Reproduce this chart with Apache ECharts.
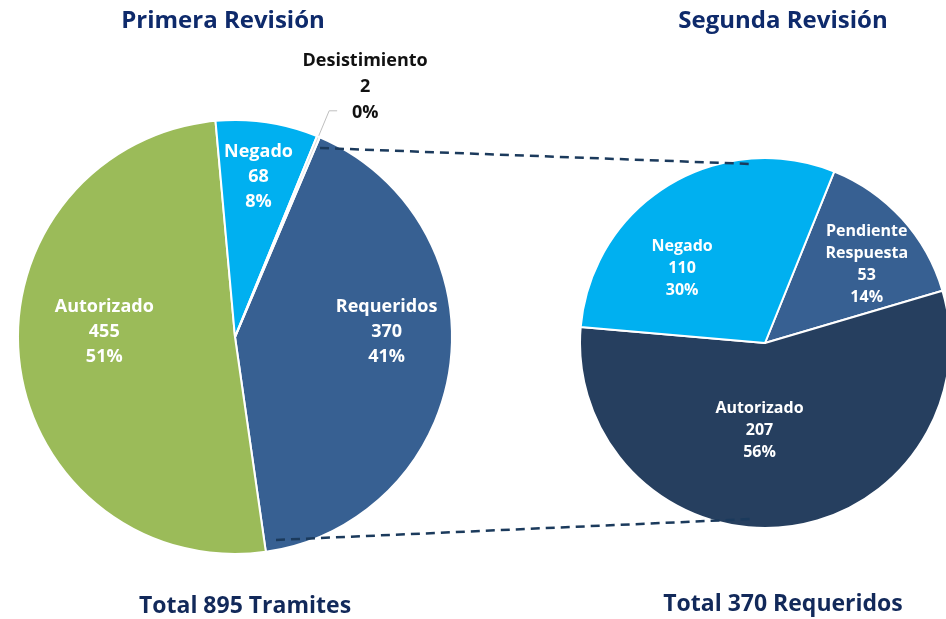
<!DOCTYPE html>
<html>
<head>
<meta charset="utf-8">
<script src="https://cdn.jsdelivr.net/npm/echarts@6/dist/echarts.min.js"></script>
<style>
  html, body { margin: 0; padding: 0; background: #fff; }
  #chartBox { width: 946px; height: 619px; }
</style>
</head>
<body>
<div id="chartBox"></div>
<script>
// primera revision (clockwise from Requeridos)
const firstNames = ["Requeridos", "Autorizado", "Negado", "Desistimiento"];
const firstValues = [370, 455, 68, 2];
const firstColors = ["#376092", "#9BBB59", "#00B0F0", "#D9D9D9"];

// segunda revision
const secondNames = ["Pendiente\nRespuesta", "Autorizado", "Negado"];
const secondValues = [53, 207, 110];
const secondColors = ["#376092", "#263F5F", "#00B0F0"];

const firstTotalText = "Total 895 Tramites";
const secondTotalText = "Total 370 Requeridos";

// label nudges, px
const firstOffsets = [[41, -20], [-20, -18], [7, -50], [23, -24]];
const secondOffsets = [[31, -14], [-15, -8], [-33, 7]];

const font = "'Open Sans', 'Noto Sans', sans-serif";
const navy = "#0E2A6B";

var myChart;

window.onload = function () {
  myChart = echarts.init(document.getElementById("chartBox"));
  myChart.setOption(buildOption());
};

function pctText(v, total) {
  return Math.round((v / total) * 100) + "%";
}

function buildOption() {
  const t1 = firstValues.reduce((a, b) => a + b, 0);
  const t2 = secondValues.reduce((a, b) => a + b, 0);

  const firstData = firstNames.map(function (n, i) {
    let item = {
      name: n,
      value: firstValues[i],
      itemStyle: { color: firstColors[i] },
    };
    if (n === "Desistimiento") {
      item.label = {
        position: "outside",
        color: "#111",
        fontSize: 18,
        lineHeight: 26,
        align: "center",
      };
      item.labelLine = {
        show: true,
        length: 28,
        length2: 8,
        lineStyle: { color: "#bfbfbf", width: 1 },
      };
    }
    return item;
  });

  const secondData = secondNames.map(function (n, i) {
    return {
      name: n,
      value: secondValues[i],
      itemStyle: { color: secondColors[i] },
    };
  });

  const titleStyle = { color: navy, fontSize: 24, fontWeight: "bold", fontFamily: font };
  const totalStyle = { color: "#12295A", fontSize: 23, fontWeight: "bold", fontFamily: font };

  return {
    animation: false,
    backgroundColor: "#fff",
    title: [
      { text: "Primera Revisión", left: 218, top: 4, textAlign: "center", textStyle: titleStyle },
      { text: "Segunda Revisión", left: 778, top: 4, textAlign: "center", textStyle: titleStyle },
      { text: firstTotalText, left: 240, top: 590, textAlign: "center", textStyle: totalStyle },
      { text: secondTotalText, left: 778, top: 588, textAlign: "center", textStyle: totalStyle },
    ],
    graphic: [
      {
        type: "line",
        shape: { x1: 320, y1: 148, x2: 752, y2: 164 },
        style: { stroke: "#1B3A5C", lineWidth: 2.5, lineDash: [9, 6] },
        z: 10,
      },
      {
        type: "line",
        shape: { x1: 276, y1: 540, x2: 752, y2: 519 },
        style: { stroke: "#1B3A5C", lineWidth: 2.5, lineDash: [9, 6] },
        z: 10,
      },
    ],
    series: [
      {
        type: "pie",
        center: [235, 337],
        radius: [0, 217],
        startAngle: 67,
        clockwise: true,
        avoidLabelOverlap: false,
        itemStyle: { borderColor: "#fff", borderWidth: 2 },
        label: {
          position: "inside",
          color: "#fff",
          fontFamily: font,
          fontWeight: "bold",
          fontSize: 18,
          lineHeight: 25,
          formatter: function (p) {
            return p.name + "\n" + p.value + "\n" + pctText(p.value, t1);
          },
        },
        labelLine: { show: false },
        labelLayout: function (p) {
          const o = firstOffsets[p.dataIndex];
          let r = { dx: o[0], dy: o[1] };
          if (p.dataIndex === 3) r.align = "center";
          return r;
        },
        data: firstData,
      },
      {
        type: "pie",
        center: [765, 343],
        radius: [0, 185],
        startAngle: 68,
        clockwise: true,
        avoidLabelOverlap: false,
        itemStyle: { borderColor: "#fff", borderWidth: 2 },
        label: {
          position: "inside",
          color: "#fff",
          fontFamily: font,
          fontWeight: "bold",
          fontSize: 16,
          lineHeight: 22,
          formatter: function (p) {
            return p.name + "\n" + p.value + "\n" + pctText(p.value, t2);
          },
        },
        labelLine: { show: false },
        labelLayout: function (p) {
          const o = secondOffsets[p.dataIndex];
          return { dx: o[0], dy: o[1] };
        },
        data: secondData,
      },
    ],
  };
}
</script>
</body>
</html>
